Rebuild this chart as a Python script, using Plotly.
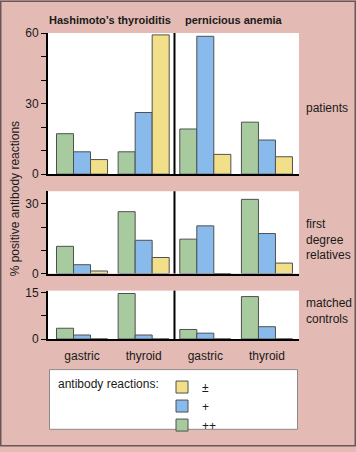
import plotly.graph_objects as go

# ---------------- data ----------------
categories = ["gastric", "thyroid", "gastric", "thyroid"]
diseases = ["Hashimoto’s thyroiditis", "pernicious anemia"]
row_labels = ["patients", "first<br>degree<br>relatives", "matched<br>controls"]
series_names = ["++", "+", "±"]

patients_pp = [17.2, 9.5, 19.2, 22.1]
patients_p = [9.5, 26.2, 58.6, 14.5]
patients_pm = [6.2, 59.2, 8.4, 7.4]

relatives_pp = [11.7, 26.6, 14.8, 31.9]
relatives_p = [3.8, 14.3, 20.5, 17.2]
relatives_pm = [1.1, 6.9, 0, 4.5]

controls_pp = [3.5, 14.8, 3.1, 13.8]
controls_p = [1.3, 1.3, 1.9, 4.0]
controls_pm = [0, 0, 0, 0]

y_ticks_patients = [0, 10, 20, 30, 40, 50, 60]
y_ticks_relatives = [0, 10, 20, 30]
y_ticks_controls = [0, 7.5, 15]
y_labels_patients = ["0", "", "", "30", "", "", "60"]
y_labels_relatives = ["0", "", "", "30"]
y_labels_controls = ["0", "", "15"]

# ---------------- style ----------------
W, H = 356, 452
ML, MR, MT, MB = 48, 57, 33, 109
PW, PH = W - ML - MR, H - MT - MB
BG = "#e3bab4"
COLORS = ["#a7cb9e", "#88bbec", "#f2df89"]
OUTLINE = "#505050"
FONT = "Liberation Sans, Arial, sans-serif"


def px_x(x):
    return (x - ML) / PW


def px_y(y):
    return (H - MB - y) / PH


x_pos = list(range(len(categories)))
rows = [
    (patients_pp, patients_p, patients_pm),
    (relatives_pp, relatives_p, relatives_pm),
    (controls_pp, controls_p, controls_pm),
]

fig = go.Figure()
for r, vals in enumerate(rows):
    suffix = "" if r == 0 else str(r + 1)
    for s, v in enumerate(vals):
        fig.add_trace(go.Bar(
            x=x_pos, y=v, name=series_names[s],
            xaxis="x" + suffix, yaxis="y" + suffix,
            marker=dict(color=COLORS[s], line=dict(color=OUTLINE, width=1)),
            showlegend=(r == 0), hoverinfo="skip",
        ))

# panel domains (pixel tops/bottoms)
panels = [(33, 176), (193.3, 276.7), (294, 343)]
scales = [60 / 143.0, 30 / 70.7, 15 / 46.7]
tickvals = [y_ticks_patients, y_ticks_relatives, y_ticks_controls]
ticktexts = [y_labels_patients, y_labels_relatives, y_labels_controls]

xr = [-0.552, 3.52]
layout = dict(
    width=W, height=H,
    margin=dict(l=ML, r=MR, t=MT, b=MB),
    paper_bgcolor=BG, plot_bgcolor="white",
    barmode="group", bargap=0.172, bargroupgap=0,
    font=dict(family=FONT, size=12, color="#1a1a1a"),
    showlegend=True,
    legend=dict(
        x=px_x(162), y=px_y(377), xanchor="left", yanchor="top",
        traceorder="reversed", bgcolor="rgba(0,0,0,0)",
        font=dict(size=12, family=FONT, color="#1a1a1a"),
    ),
)
for r, (top, bot) in enumerate(panels):
    suffix = "" if r == 0 else str(r + 1)
    ytop = (bot - top) * scales[r]
    layout["xaxis" + suffix] = dict(
        domain=[0, 1], anchor="y" + suffix, range=xr,
        showline=True, linecolor="black", linewidth=2,
        showgrid=False, zeroline=False, ticks="",
        tickvals=x_pos, ticktext=categories, ticklabelstandoff=5,
        showticklabels=(r == 2), tickfont=dict(size=12),
    )
    layout["yaxis" + suffix] = dict(
        domain=[px_y(bot), px_y(top)], anchor="x" + suffix, range=[0, ytop],
        showline=True, linecolor="black", linewidth=2,
        showgrid=False, zeroline=False,
        ticks="outside", ticklen=5, tickcolor="black", tickwidth=1,
        tickvals=tickvals[r], ticktext=ticktexts[r], tickfont=dict(size=12),
    )
fig.update_layout(**layout)

# divider between the two diseases
for r in range(3):
    suffix = "" if r == 0 else str(r + 1)
    fig.add_shape(type="line", xref="x" + suffix, yref="y" + suffix + " domain",
                  x0=1.5, x1=1.5, y0=0, y1=1, line=dict(color="black", width=2))

# legend box and outer frame
fig.add_shape(type="rect", xref="paper", yref="paper",
              x0=px_x(49.5), x1=px_x(297.5), y0=px_y(434.5), y1=px_y(374),
              fillcolor="white", line=dict(color="#8a8a8a", width=1), layer="below")
fig.add_shape(type="rect", xref="paper", yref="paper",
              x0=px_x(0.75), x1=px_x(355.25), y0=px_y(451.25), y1=px_y(0.75),
              line=dict(color="#6a5858", width=1.5))

ann = []
ann.append(dict(text="antibody reactions:", x=px_x(56), y=px_y(389),
                xanchor="left", yanchor="middle"))
ann.append(dict(text="% positive antibody reactions", x=px_x(14.5), y=px_y(201),
                textangle=-90, xanchor="center", yanchor="middle"))
title_x = [110, 233]
for d, tx in zip(diseases, title_x):
    ann.append(dict(text="<b>" + d + "</b>", x=px_x(tx), y=px_y(20),
                    xanchor="center", yanchor="middle",
                    font=dict(family=FONT, size=11)))
row_y = [108.7, 242, 314.5]
for lab, ry in zip(row_labels, row_y):
    ann.append(dict(text=lab, x=px_x(304), y=px_y(ry), xanchor="left",
                    yanchor="middle", align="left"))
for a in ann:
    a.update(xref="paper", yref="paper", showarrow=False)
    a.setdefault("font", dict(size=12))
fig.update_layout(annotations=ann)

fig.write_html("out.html", config={"displayModeBar": False},
               post_script="document.body.style.margin='0';document.body.style.overflow='hidden';")
